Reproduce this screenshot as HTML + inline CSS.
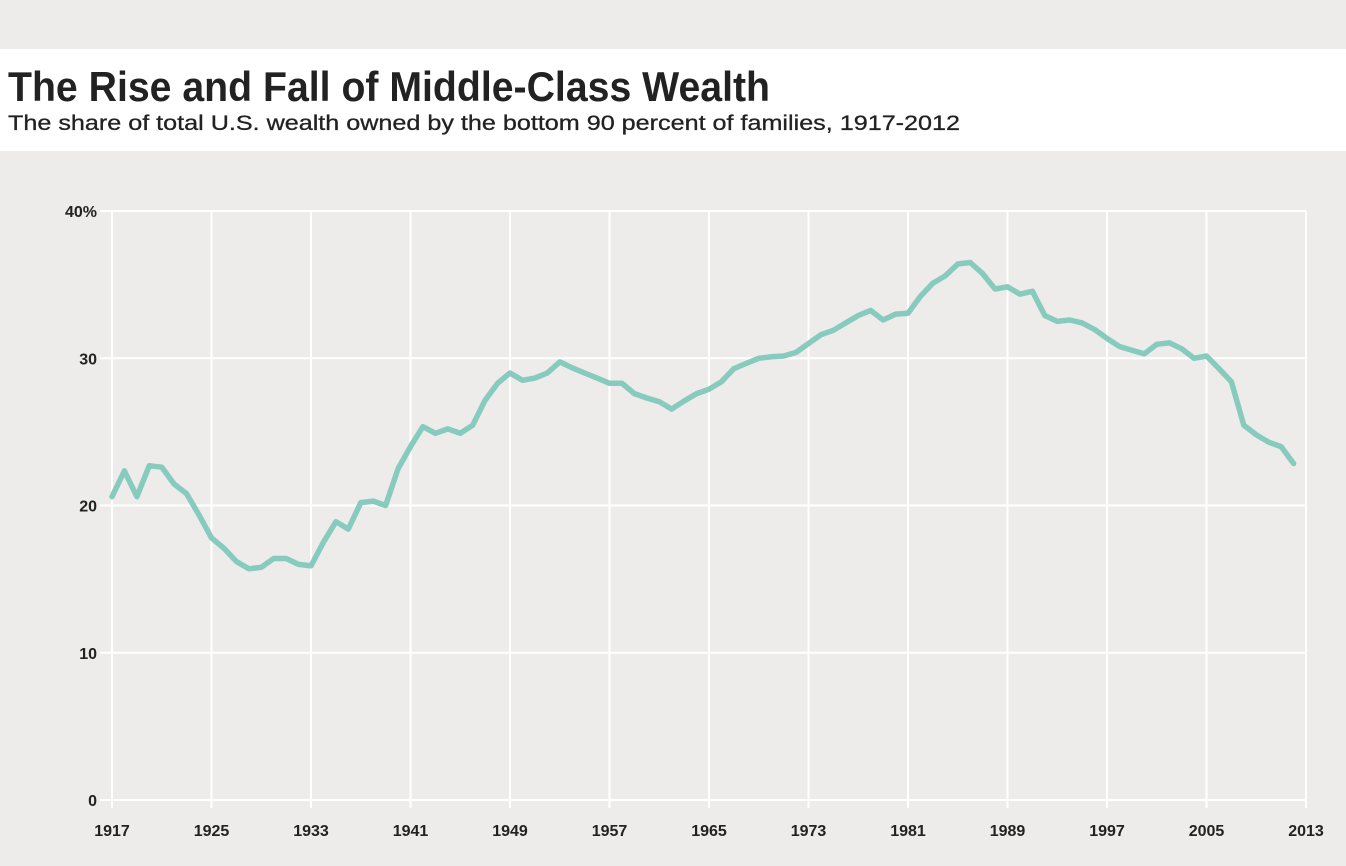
<!DOCTYPE html>
<html>
<head>
<meta charset="utf-8">
<style>
  html,body{margin:0;padding:0;background:#edeceb;}
  svg{display:block;}
</style>
</head>
<body>
<svg id="chart" width="1346" height="866" viewBox="0 0 1346 866" xmlns="http://www.w3.org/2000/svg">
  <rect x="0" y="0" width="1346" height="866" fill="#edeceb"/>
  <rect x="0" y="49" width="1346" height="102" fill="#ffffff"/>
  <text x="8" y="101" font-family="Liberation Sans, sans-serif" font-size="42" font-weight="bold" fill="#222" textLength="762" lengthAdjust="spacingAndGlyphs">The Rise and Fall of Middle-Class Wealth</text>
  <text x="8" y="130" font-family="Liberation Sans, sans-serif" font-size="21" fill="#222" stroke="#222" stroke-width="0.3" textLength="952" lengthAdjust="spacingAndGlyphs">The share of total U.S. wealth owned by the bottom 90 percent of families, 1917-2012</text>
  <g id="grid"></g>
  <g id="yticks"></g>
  <g id="xticks"></g>
  <g id="series"></g>
</svg>
<script>
const years = [1917,1918,1919,1920,1921,1922,1923,1924,1925,1926,1927,1928,1929,1930,1931,1932,1933,1934,1935,1936,1937,1938,1939,1940,1941,1942,1943,1944,1945,1946,1947,1948,1949,1950,1951,1952,1953,1954,1955,1956,1957,1958,1959,1960,1961,1962,1963,1964,1965,1966,1967,1968,1969,1970,1971,1972,1973,1974,1975,1976,1977,1978,1979,1980,1981,1982,1983,1984,1985,1986,1987,1988,1989,1990,1991,1992,1993,1994,1995,1996,1997,1998,1999,2000,2001,2002,2003,2004,2005,2006,2007,2008,2009,2010,2011,2012];
const shares = [20.6,22.35,20.6,22.7,22.6,21.45,20.8,19.35,17.8,17.1,16.2,15.7,15.8,16.4,16.4,16.0,15.9,17.5,18.9,18.4,20.2,20.3,20.0,22.5,24.0,25.35,24.9,25.2,24.9,25.45,27.15,28.3,29.0,28.5,28.65,29.0,29.75,29.35,29.0,28.65,28.3,28.3,27.6,27.3,27.05,26.55,27.1,27.6,27.9,28.4,29.3,29.65,30.0,30.1,30.15,30.4,31.0,31.6,31.9,32.4,32.9,33.25,32.6,33.0,33.05,34.2,35.1,35.6,36.4,36.5,35.75,34.7,34.85,34.35,34.55,32.9,32.5,32.6,32.4,31.95,31.35,30.8,30.55,30.3,30.95,31.05,30.65,30.0,30.15,29.3,28.4,25.45,24.8,24.3,24.0,22.85];
const yTickValues = [0,10,20,30,40];
const yTickLabels = ["0","10","20","30","40%"];
const xTickYears = [1917,1925,1933,1941,1949,1957,1965,1973,1981,1989,1997,2005,2013];

const NS = "http://www.w3.org/2000/svg";
const x0 = 112, x1 = 1306, yBottom = 800, yTop = 211;
function xScale(yr){ return x0 + (yr - 1917) / (2013 - 1917) * (x1 - x0); }
function yScale(v){ return yBottom - v / 40 * (yBottom - yTop); }
function mk(tag, attrs){ const e = document.createElementNS(NS, tag); for (const k in attrs) e.setAttribute(k, attrs[k]); return e; }

const grid = document.getElementById('grid');
const yt = document.getElementById('yticks');
const xt = document.getElementById('xticks');
const series = document.getElementById('series');

yTickValues.forEach((v, i) => {
  const y = yScale(v);
  const l = mk('line', {x1: 100, x2: x1, y1: y, y2: y, stroke: '#ffffff', 'stroke-width': 2});
  
  
  grid.appendChild(l);
  const t = mk('text', {x: 97, y: y + 6, 'text-anchor': 'end', 'font-family': 'Liberation Sans, sans-serif', 'font-size': 16, 'font-weight': 'bold', fill: '#222'});
  t.textContent = yTickLabels[i];
  
  
  yt.appendChild(t);
});

xTickYears.forEach(yr => {
  const x = xScale(yr);
  const l = mk('line', {x1: x, x2: x, y1: yTop, y2: yBottom + 8, stroke: '#ffffff', 'stroke-width': 2});
  
  
  grid.appendChild(l);
  const t = mk('text', {x: x, y: 836, 'text-anchor': 'middle', 'font-family': 'Liberation Sans, sans-serif', 'font-size': 16, 'font-weight': 'bold', fill: '#222'});
  t.textContent = String(yr);
  
  
  xt.appendChild(t);
});

const pts = years.map((yr, i) => xScale(yr).toFixed(1) + ',' + yScale(shares[i]).toFixed(1)).join(' ');
const line = mk('polyline', {points: pts, fill: 'none', stroke: '#86cbbd', 'stroke-width': 5.5, 'stroke-linejoin': 'round', 'stroke-linecap': 'round'});


series.appendChild(line);
</script>
</body>
</html>
